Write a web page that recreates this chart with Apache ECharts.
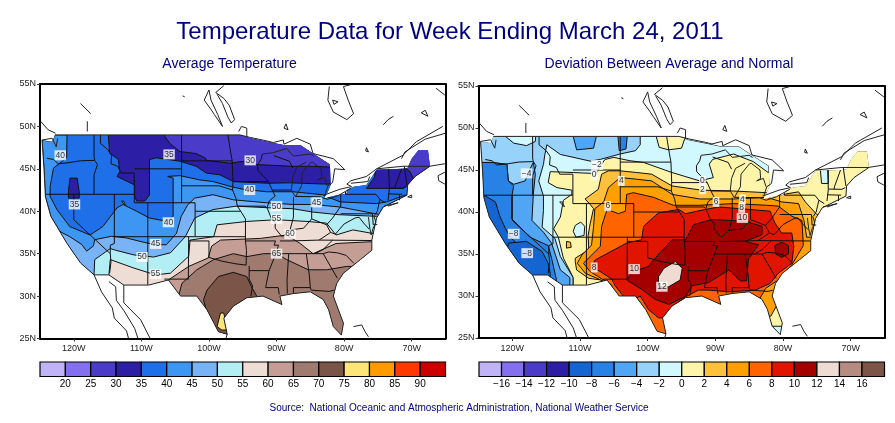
<!DOCTYPE html>
<html><head><meta charset="utf-8">
<style>html,body{margin:0;padding:0;background:#fff}#c{width:895px;height:423px}</style>
<script src="https://cdn.jsdelivr.net/npm/echarts@6/dist/echarts.min.js"></script>
</head><body><div id="c"></div>
<script>
// ---------- data: lon / lat ----------
const lonTicks=[-120,-110,-100,-90,-80,-70];
const latTicks=[25,30,35,40,45,50,55];
const tempLegendTicks=[20,25,30,35,40,45,50,55,60,65,70,75,80,85,90];
const devLegendTicks=[-16,-14,-12,-10,-8,-6,-4,-2,0,2,4,6,8,10,12,14,16];

const usNorthEdge=[[-124.7,48.4],[-123.2,48.2],[-122.8,49],[-95.4,49],[-93.9,48.6],[-91.4,48.2],[-89,47.8],[-86.5,47.8],[-84.6,46.8],[-82.1,45.5],[-82,43.1],[-82.4,42.3],[-83,41.5],[-81.6,41.8],[-79.6,42.1],[-79.6,42.5],[-78.6,42.9],[-76.7,43.1],[-75.2,44.9],[-71.3,45],[-70.6,45.1],[-70,46.2],[-69,47.2],[-67.6,47.2],[-67.3,45.3]];
const usCoast=[[-67.3,45.3],[-69.5,44.1],[-70.6,43.1],[-70.7,41.9],[-74.2,40.5],[-75.2,39.2],[-75.9,36.6],[-75.9,35.4],[-77.6,34.3],[-80.1,32.7],[-81.1,31.5],[-81.6,30],[-80.1,26.8],[-80.4,25.4],[-81.6,26.4],[-82.3,28.4],[-83.1,29.6],[-85,30.5],[-87.5,30.3],[-89.5,30],[-89.2,29],[-92,30],[-94.4,29.8],[-96.4,28.8],[-97.8,27.4],[-97.3,25.5],[-98.6,25.8],[-100.3,28.4],[-101.8,30],[-104.2,30],[-106,31.9],[-108.9,31.3],[-112.6,31.3],[-114.8,32.5],[-117,32.5],[-119,33.9],[-121,36.2],[-123.4,39.4],[-124.2,41.7],[-124.4,44.9],[-124.7,48.4]];

const stateLines=[
[[-124,46.25],[-123,46.1],[-122.3,45.6],[-121,45.7],[-119,45.95],[-116.9,46]],
[[-117,49],[-117,46.4],[-116.9,46],[-116.5,45.5],[-117,44.3],[-117,42]],
[[-124.2,42],[-111.05,42]],
[[-120,42],[-120,39],[-114.6,35],[-114.5,34],[-114.7,32.7]],
[[-114,42],[-114,36.2],[-114.6,36],[-114.6,35]],
[[-114,37],[-94.6,37]],
[[-111.05,42],[-111.05,41],[-102.05,41]],
[[-109.05,41],[-109.05,31.33]],
[[-116.05,49],[-116.05,48],[-115,47.3],[-114.4,46.6],[-114.5,45.6],[-113.5,45.3],[-113,44.5],[-111.05,44.5],[-111.05,42]],
[[-111.05,45],[-104.05,45]],
[[-104.05,49],[-104.05,41]],
[[-102.05,41],[-102.05,37]],
[[-102.05,40],[-95.3,40]],
[[-103,37],[-103.05,32],[-106.6,32]],
[[-103,36.5],[-100,36.5],[-100,34.55],[-98,34.1],[-96,33.8],[-94.5,33.65]],
[[-94.05,33.55],[-94.05,32],[-93.55,31.2],[-93.8,30]],
[[-104.05,45.94],[-96.56,45.94]],
[[-104.05,43],[-98.5,43],[-96.5,42.5]],
[[-97.2,49],[-96.8,47],[-96.56,45.94],[-96.45,43.5],[-96.5,42.5],[-96,41.5],[-95.8,40.6],[-95.3,40],[-94.6,39.1],[-94.6,36.5],[-94.45,35.4],[-94.5,33.65]],
[[-96.45,43.5],[-91.2,43.5]],
[[-92.1,46.75],[-92.3,46.1],[-92.8,45.5],[-92.75,44.8],[-91.2,43.5],[-90.65,42.5],[-90.2,41.8],[-91.1,41.2],[-91.4,40.4],[-90.7,39],[-90.2,38.7],[-90.2,38],[-89.2,37]],
[[-90.65,42.5],[-87.8,42.5]],
[[-95.8,40.6],[-91.7,40.6],[-91.4,40.4]],
[[-94.6,36.5],[-90.15,36.5],[-90.35,36],[-89.7,36],[-90.1,35],[-91.1,33]],
[[-94.05,33],[-91.1,33],[-91.5,31.5],[-91.6,31],[-89.75,31],[-89.6,30.2]],
[[-90.3,35],[-83.1,35],[-82.3,35.2],[-81,35.1],[-79.7,34.8],[-78.55,33.85]],
[[-88.2,35],[-88.45,31.9],[-88.4,30.3]],
[[-85.6,35],[-85.15,32.5],[-85,31],[-84.85,30.7],[-82.2,30.55],[-81.5,30.7]],
[[-87.5,30.3],[-87.5,31],[-85,31]],
[[-83.1,35],[-81,32.1]],
[[-89.5,36.5],[-88,36.5],[-83.7,36.6],[-75.9,36.55]],
[[-81.7,36.6],[-83.1,35.5],[-84.3,35]],
[[-83.7,36.6],[-82,37.5],[-82.6,38.4],[-84.8,39.1],[-86,38],[-88,37.8],[-89.1,37]],
[[-88,37.8],[-87.5,39.3],[-87.5,41.7]],
[[-84.8,39.1],[-84.8,41.7]],
[[-87.2,41.75],[-83.5,41.7]],
[[-80.5,42],[-80.5,40.6],[-81.7,39.2],[-82.6,38.4]],
[[-80.5,39.7],[-75.8,39.7]],
[[-82,37.5],[-81.3,37.3],[-80,38.5],[-78.4,39.2],[-77.8,39.3],[-77,38.5],[-76.3,37.9]],
[[-79.8,42.3],[-79.8,42],[-75.3,42],[-74.7,41.4],[-73.9,41]],
[[-73.4,45],[-73.3,42.7],[-73.5,41.3]],
[[-71.5,45],[-72.4,43],[-72.45,42.7]],
[[-73.3,42.73],[-71.3,42.7],[-70.8,42.9]],
[[-73.5,42.05],[-71.4,42]],
[[-71.8,42],[-71.8,41.3]],
[[-71.1,45.3],[-70.7,43.1]],
[[-90.4,46.55],[-88.1,45.9],[-87.6,45.1]],
[[-74.7,41.4],[-75.1,40],[-75.5,39.5]],
[[-75.8,39.7],[-75.7,38.45],[-75.1,38.45]]
];

const coastLines=[
[[-122.8,49],[-95.4,49]],
[[-117,32.5],[-115.9,30.5],[-114.3,28.6],[-114,27.4],[-112.2,25.9],[-111.9,25]],
[[-114.8,31.7],[-113.8,31.1],[-113.7,29.5],[-112.6,28.3],[-111,26.2],[-110.5,25]],
[[-112.6,31.3],[-112.6,29.2],[-110.1,27.2],[-108.7,25]],
[[-97.3,25.5],[-97.5,25]],
[[-78.6,26.4],[-77.4,26.6],[-76.9,25.8],[-76.4,25.2]],
[[-95.6,49.4],[-95.2,50],[-94.4,49.8],[-94.4,48.7]],
[[-97.8,54.8],[-99,54],[-97.8,53.3],[-97,52.5],[-96.2,50.8],[-96.7,50.4],[-97.2,51.1],[-98,52.7],[-98.8,53.8]],
[[-100,54.3],[-100.7,53.1],[-99.7,52],[-99.2,51.4],[-98,50],[-98.7,51.4],[-99.7,53.1],[-100,54.3]],
[[-88.6,50.3],[-88.3,49.6],[-88.9,49.8],[-88.6,50.3]],
[[-82.2,54.7],[-82.4,53.1],[-81.6,51.7],[-79.6,50.8],[-78.6,51.5],[-79.4,53.1],[-80.1,54.7],[-79.1,54.9]],
[[-81.7,53.1],[-80.9,52.9],[-81.5,52.6],[-81.7,53.1]],
[[-95.4,49],[-93.9,48.7],[-91.5,48.3],[-90.5,48.1],[-89,48.4],[-88.9,47.9],[-87,48.6],[-85,47.9],[-84.6,46.8],[-81.6,46.2],[-79.9,44.9],[-81.4,45],[-81.7,43.4],[-82.4,43],[-82.8,42],[-83,41.9],[-80.6,42.6],[-78.9,42.9],[-79.6,43.2],[-79,43.6],[-76.7,44.1],[-75.2,45],[-71.3,46.6],[-69.3,48.2],[-65.4,50]],
[[-75.2,45],[-71.3,45.3],[-67.4,45.3],[-65.1,45.6]],
[[-71.5,46.2],[-71,47],[-68,48.5],[-65,49.2]],
[[-74.2,50.2],[-73.5,50.8],[-72.7,51.2]],
[[-68.6,51.6],[-68,51.9],[-67.6,51.2],[-68.6,51.6]],
[[-76.7,47.5],[-76.4,47],[-76.8,47.1],[-76.7,47.5]],
[[-66.4,54.5],[-65.1,53.7]],
[[-65.1,44.6],[-66.1,44.2],[-66,43.6],[-65.1,43.2]],
[[-119,52.7],[-117.5,51.5]],[[-118,50.6],[-118,49.4]],[[-103.9,53.6],[-103.6,53.5]],
[[-124.9,50.6],[-123.8,49.6],[-122.7,49.2]],[[-124.7,48.4],[-123.2,48.6],[-122.6,47.6],[-122.4,48.6]],
[[-92.1,46.75],[-90.5,46.9],[-88.5,47.4],[-87.5,46.5],[-85,46.75],[-84.5,46.5]],
[[-87.2,41.7],[-87.8,42.5],[-87.6,44],[-87,45.2],[-85.6,45.8]],
[[-87.2,41.7],[-86.3,43],[-86.2,44.5],[-85,45.7],[-84.7,45.8]],
[[-84.7,45.8],[-83.4,45],[-83.3,44],[-83.9,43.7],[-82.9,44],[-82.5,43]],
[[-83.5,41.7],[-82.5,41.4],[-81,41.8],[-79,42.7]],
[[-79,43.3],[-76.5,43.5],[-76.2,44.1]],
[[-113,41.2],[-112.3,40.6],[-112.6,41.2],[-113,41.2]],
[[-74.1,40.6],[-72,41],[-73.5,40.6]],[[-70.6,41.7],[-70,41.9],[-70,41.6],[-70.6,41.7]],
[[-76.4,39.3],[-76.2,38],[-76,37.2],[-75.7,38],[-75.3,38.7],[-75.6,39.5]]
];

// region = [legend band index, ring of lon/lat]
const tempRegions=[
[5,usNorthEdge.concat(usCoast)],
[4,[[-121.1,50],[-121,49],[-121.06,46.3],[-123,45.1],[-123.5,42.9],[-123.5,41.75],[-122.5,40.2],[-120.6,38.2],[-117.6,37.2],[-115.7,38.2],[-113.6,40.4],[-112.7,40.8],[-110.7,40],[-108.8,39.2],[-106.1,38.8],[-105.3,39.4],[-105.3,40.8],[-105.3,43.9],[-106.1,44.1],[-104.3,44.2],[-101.4,43.7],[-99.4,43.5],[-96.7,42.9],[-95,42.6],[-91.5,42.3],[-87.6,42.3],[-83.2,41.95],[-80.6,41.1],[-75.2,40.9],[-73.7,41.1],[-71,41.9],[-65,41.9],[-65,50]]],
[3,[[-114.9,50],[-114.9,49],[-114.7,46.85],[-113.4,46.1],[-113.2,44.7],[-113.6,44.1],[-111,43.1],[-111,41.75],[-110.7,41.2],[-109.5,41.2],[-108.8,41.9],[-108.8,44.9],[-108.8,46.1],[-107.8,46.3],[-104.3,45.9],[-101.9,45.3],[-100.4,44.5],[-98.4,44.3],[-96.4,43.5],[-91.5,43.3],[-88.1,43.35],[-82.7,43.2],[-80,43.2],[-80,50]]],
[2,[[-106.6,50],[-106.5,48.8],[-105.8,48],[-104.3,47.04],[-101.9,46.8],[-100.5,46.26],[-100.4,46],[-97,45.67],[-94.7,45.9],[-93,45.5],[-87.6,45.3],[-84.6,45.3],[-82,45.2],[-80,45.2],[-80,50]]],
[3,[[-120.57,43.9],[-119.5,43.9],[-119.2,42.3],[-119.2,41.55],[-120.8,41.55],[-120.8,42.3]]],
[3,[[-76.7,42.7],[-71.3,42.7],[-70.6,43.1],[-68,43],[-68,46],[-75.2,46],[-75.5,44]]],
[2,[[-71.2,48],[-71,45.2],[-70.2,44.6],[-69.8,43.9],[-66,43.9],[-66,48]]],
[6,[[-126,39.6],[-124,39.6],[-122.5,37.8],[-120.6,37],[-118.85,36.1],[-118.1,35.3],[-117.1,35.9],[-116.9,36.65],[-114.4,37.05],[-112.2,36.85],[-110.2,36.45],[-108,36.05],[-106.3,36.05],[-104.8,37.4],[-104.1,39.4],[-103.1,40.8],[-102.1,41.55],[-99.4,41.95],[-96.4,41.35],[-91.5,41],[-87.6,40.8],[-84.6,40.8],[-80.6,40.5],[-74.7,39.6],[-65,39.6],[-65,24],[-126,24]]],
[7,[[-117,30],[-117,32.6],[-116.9,34.3],[-114.6,35.6],[-113.8,35.4],[-111.1,34.85],[-108.2,34.6],[-105.7,35.1],[-103.5,37],[-102.1,39.2],[-99.4,40.2],[-96,40.6],[-91,40.4],[-87.6,40.3],[-84.6,39.9],[-80.9,39.6],[-75.2,39.4],[-65,39.4],[-65,24],[-117,24]]],
[8,[[-114.8,30],[-114.8,32.5],[-114.6,34.3],[-111.1,33.3],[-107.9,32.5],[-105.7,32.7],[-103,34.7],[-102.8,36.6],[-99.3,37],[-98.8,38.4],[-94.4,38.8],[-90,39],[-85.5,38.8],[-82.6,38.6],[-81.2,37.2],[-78.7,37.8],[-75.9,37.4],[-65,37.4],[-65,24],[-114.8,24]]],
[9,[[-106,30],[-106,31.9],[-103,33.5],[-100.1,34.5],[-99.6,35.9],[-98.3,36.6],[-92.4,36.8],[-88.5,37.2],[-86.5,36.2],[-84.6,35],[-81.2,36.2],[-76.2,36.4],[-65,36.4],[-65,24],[-106,24]]],
[10,[[-104.5,30],[-104,31.5],[-101.8,33.1],[-99.3,34.3],[-96.4,35],[-94.4,34.65],[-91.9,35],[-90,35],[-88.5,34.3],[-85.3,33.1],[-82.6,33.1],[-79.6,33.5],[-78,33.5],[-70,30],[-70,24],[-104.5,24]]],
[11,[[-100.8,29.55],[-100.3,30.7],[-98.6,32.3],[-96.4,32.8],[-94.4,32.3],[-93.7,31.1],[-92.9,29.95],[-92.9,29],[-95.4,28.8],[-97.3,27.8],[-97.3,25],[-99.3,25]]],
[12,[[-98.3,28],[-97.8,28],[-97.3,26],[-98.1,26],[-98.8,26.4]]]
];
const devRegions=[
[8,usNorthEdge.concat(usCoast)],
[7,[[-126,50],[-101.1,50],[-101.1,48],[-101.8,47.3],[-104.1,46.9],[-107,46.26],[-108.5,46.06],[-112.9,46.85],[-114.9,48],[-115.2,46.8],[-115.4,45.67],[-116.1,43.7],[-115.4,41.9],[-115.4,40.2],[-115.6,38.2],[-113.7,36.85],[-112.9,34.7],[-111,32.2],[-111,30],[-126,30]]],
[8,[[-121,49.5],[-121,49],[-119.8,48.2],[-117.9,47.9],[-116.6,48.4],[-116.5,49.5]]],
[6,[[-126,45.9],[-123,45.9],[-120.8,45.67],[-120.6,43.7],[-119.8,43.3],[-118.1,43.7],[-117.4,45.1],[-116.9,45.9],[-116.6,44.5],[-116.9,42.1],[-117.1,39],[-115.4,37.6],[-114.2,36.3],[-112.9,33.1],[-111.5,32.2],[-111.5,30],[-126,30]]],
[5,[[-126,45.9],[-123,45.9],[-120.8,45.67],[-120.6,43.7],[-119.8,43.1],[-120.1,41.75],[-120.1,39.2],[-117.4,37],[-114.7,36],[-114.2,34.5],[-113.5,32],[-113.5,30],[-126,30]]],
[4,[[-126,41.9],[-124,41.9],[-122.5,41.2],[-121.8,39.4],[-121,38],[-120.3,37],[-119,36],[-120,30],[-126,30]]],
[4,[[-120.6,36.3],[-117.9,36.5],[-115.6,35.3],[-114.7,33.9],[-114.4,32.7],[-114.4,32],[-118,32],[-121,34]]],
[6,[[-111,50],[-107.3,50],[-108,47.6],[-110.5,47.4],[-111,49]]],
[5,[[-104.5,50],[-102.9,50],[-103.2,47.5],[-104.2,47.3]]],
[9,[[-111,30],[-111,32.2],[-112.45,34.5],[-113.2,37],[-113.9,38],[-112.9,39.4],[-112.45,41.4],[-111.2,42.1],[-111.2,42.6],[-113.4,42.9],[-114.7,43.5],[-114.4,44.8],[-111,44.7],[-108.3,44.6],[-107.8,44.3],[-107,45.5],[-106.3,46.26],[-105,46.5],[-102.6,46.1],[-100.6,45.9],[-96.4,44.7],[-92.3,43.7],[-90.3,44.1],[-90.9,45.7],[-90.4,46.26],[-87.3,46.9],[-84.4,46],[-82.2,44.7],[-80,46],[-65,49],[-65,24],[-111,24]]],
[9,[[-98.9,49.5],[-94.2,49.5],[-95,47.6],[-96.9,47.4],[-98.3,47.7]]],
[8,[[-110.7,38.4],[-109.9,38.8],[-109.3,38.3],[-109.4,37.2],[-110.6,37],[-111,37.7]]],
[8,[[-74.5,45.2],[-73.3,45.2],[-73.3,43.4],[-74.3,43.4]]],
[10,[[-112,36.5],[-111.4,36.4],[-111.3,35.8],[-112,35.7]]],
[10,[[-109.25,41.55],[-107.3,42.7],[-106.8,44.5],[-105.8,44.9],[-104.07,44.9],[-101.6,44.7],[-99.4,44.5],[-96.4,43.1],[-92,42.6],[-87.3,42.5],[-82.4,42.3],[-80.7,42],[-77.7,42.4],[-76.7,41.2],[-75,39.7],[-73,39.7],[-73,34],[-80,30.6],[-81,29.5],[-81.5,28.3],[-83.5,28],[-90,24],[-106.8,24],[-106.8,31.9],[-108.7,32.1],[-110.5,33.1],[-110.7,34.1],[-110.7,34.5],[-108.7,35.5],[-108.8,37.2],[-108.5,38.6],[-108,40.4],[-108.5,40.9]]],
[11,[[-105.8,42.9],[-104.07,44.1],[-101.6,43.9],[-99.4,43.7],[-96.4,42.1],[-92.3,41.55],[-87.3,41.55],[-82.4,41.75],[-80.2,41.2],[-77.7,41],[-76.9,39],[-76.5,37],[-73,37],[-73,33],[-79,30],[-80.5,29.5],[-81.8,27.6],[-83.5,27.6],[-90,24],[-105.8,24],[-105.8,31.5],[-109.2,32.7],[-110.4,33.9],[-109.7,34.9],[-108.3,36.05],[-108,38.2],[-107.8,40.4],[-106.5,41.2]]],
[12,[[-105.3,31.3],[-108.5,32.9],[-109.5,33.9],[-108.25,34.9],[-107,35.9],[-106.8,38.3],[-106,40.3],[-104.3,39.8],[-103.3,40.1],[-103.1,42.1],[-102.1,42.3],[-99.15,41.75],[-96.2,40.8],[-92.3,40.8],[-87.3,41],[-82.4,40.8],[-80.7,40.7],[-78.7,39.5],[-77.2,39],[-77,36],[-78.7,33.7],[-80.7,31.9],[-82.6,30.9],[-82.9,30.4],[-84,29],[-90,24],[-100,24],[-105.3,30]]],
[13,[[-107.75,34.3],[-103.1,36.3],[-100.9,36.7],[-100.6,38.3],[-98.4,39.9],[-95.4,40.3],[-94.4,39.8],[-91.5,40.3],[-89.5,40.6],[-81.9,40.1],[-81.2,38.7],[-80.2,37.5],[-78.7,37.5],[-78.4,35.9],[-78.7,33.9],[-80.7,32.7],[-81.9,31.5],[-84.1,30.7],[-88,30.5],[-91,30.7],[-92.5,30.7],[-94.4,29.9],[-95.9,29],[-97.4,27.4],[-98.4,27.4],[-99.9,28.4],[-101.1,30],[-102.8,29.2],[-104.8,31.2],[-105.3,32],[-106.8,32.8],[-108.25,33.5]]],
[14,[[-103.1,31.9],[-102.3,32.9],[-99.9,33.5],[-99.15,34.3],[-96.4,36.7],[-94.4,36.7],[-93.2,38.5],[-90.5,39.1],[-85.6,38.9],[-83.1,38.3],[-83.1,37.3],[-85.6,36.5],[-83.6,36.1],[-85.1,34.4],[-85.4,31.8],[-86.3,31.8],[-88,33.1],[-91,31.6],[-93.5,31.2],[-94.4,29.95],[-96.9,29],[-98.9,29.6],[-100.9,30.8]]],
[14,[[-80.2,36.4],[-79.2,36],[-79.2,35],[-80.2,34.6],[-81.1,35],[-81.2,36]]],
[15,[[-98.4,32.3],[-97.6,33.3],[-95.9,34.1],[-94.9,33.3],[-95.2,31.9],[-96.9,31.1],[-98.4,31.1]]],
[8,[[-82,26.4],[-80,26.4],[-80,25],[-82,25]]]
];
const tempLabels=[[-122,46.6,'40'],[-105.9,46.7,'35'],[-93.9,46,'30'],[-119.9,40.8,'35'],[-94,42.5,'40'],[-84.1,41.05,'45'],[-90,40.6,'50'],[-90,39.1,'55'],[-88,37.3,'60'],[-90,35,'65'],[-106,38.7,'40'],[-107.9,36.15,'45'],[-109.9,34.6,'50'],[-107.9,32.6,'55']];
const devLabels=[[-107.5,45.6,'-2'],[-107.9,44.4,'0'],[-117.9,44.6,'-4'],[-119.8,37.4,'-8'],[-117.8,35.1,'-8'],[-103.9,43.7,'4'],[-105.9,40.7,'6'],[-107.9,33.4,'8'],[-102,33.2,'10'],[-97.9,31.1,'12'],[-86,39.3,'10'],[-86.1,40.5,'8'],[-89.9,41.2,'6'],[-86,41.5,'4'],[-91.9,42.7,'2'],[-91.9,43.7,'0']];

// ---------- styles ----------
const tempColors=['#c0b3f8','#8470ee','#4a3cc8','#2c1ea5','#1f6fe8','#3c96f2','#78b4f5','#b4eef5','#eeddd5','#c49e94','#9f7a6e','#7b5548','#fde678','#ff9b00','#ff3800','#cc0000'];
const devColors=['#c0b3f8','#8470ee','#4a3cc8','#2c1ea5','#1464d2','#2882e6','#50a5f5','#96d2fa','#d2f8ff','#fff5aa','#ffc03c','#ffa000','#ff6400','#e11400','#a50000','#eedcd2','#b48c82','#7d5546'];
const navy='#000080', ink='#111', font='"Liberation Sans",Arial,sans-serif';

const usRing=usNorthEdge.concat(usCoast);
function fillSeries(regions,colors,g){
  return {type:'custom',xAxisIndex:g,yAxisIndex:g,clip:true,silent:true,z:2,
    data:regions.map(r=>r[1][0]),
    renderItem(params,api){
      const r=regions[params.dataIndex];
      return {type:'polygon',shape:{points:r[1].map(p=>api.coord(p))},
        clipPath:{type:'polygon',shape:{points:usRing.map(p=>api.coord(p))}},
        style:{fill:colors[r[0]],stroke:ink,lineWidth:1}};
    }};
}
function lineSeries(lines,g,color,w,z){
  return {type:'custom',xAxisIndex:g,yAxisIndex:g,clip:true,silent:true,z:z,
    data:lines.map(l=>l[0]),
    renderItem(params,api){
      return {type:'polyline',shape:{points:lines[params.dataIndex].map(p=>api.coord(p))},
        style:{fill:null,stroke:color,lineWidth:w}};
    }};
}
function labelSeries(labels,g){
  return {type:'scatter',xAxisIndex:g,yAxisIndex:g,symbolSize:0,silent:true,z:6,
    data:labels.map(l=>({value:[l[0],l[1]],name:l[2]})),
    label:{show:true,position:'inside',formatter:p=>p.name.replace('-','\u2212'),fontFamily:font,fontSize:8.5,color:'#000',
      backgroundColor:'#fff',padding:[1,1,0,1]}};
}
function legendSeries(colors,g){
  return {type:'custom',xAxisIndex:g,yAxisIndex:g,silent:true,z:3,
    data:colors.map((c,i)=>[i,0]),
    renderItem(params,api){
      const a=api.coord([params.dataIndex,1]),b=api.coord([params.dataIndex+1,0]);
      return {type:'rect',shape:{x:a[0],y:a[1],width:b[0]-a[0],height:b[1]-a[1]},
        style:{fill:colors[params.dataIndex],stroke:'#000',lineWidth:1.2}};
    }};
}
function mapAxes(g){
  return [{gridIndex:g,type:'value',min:-125,max:-65,interval:5,splitLine:{show:false},
      axisLine:{show:true,onZero:false,lineStyle:{color:'#000',width:2}},
      axisTick:{show:true,length:3,customValues:lonTicks,lineStyle:{color:'#333'}},
      axisLabel:{customValues:lonTicks,formatter:v=>Math.abs(v)+'W',fontFamily:font,fontSize:9,color:'#222',margin:6}},
    {gridIndex:g,type:'value',min:25,max:55,interval:5,splitLine:{show:false},
      axisLine:{show:true,onZero:false,lineStyle:{color:'#000',width:2}},
      axisTick:{show:true,length:3,customValues:latTicks,lineStyle:{color:'#333'}},
      axisLabel:{customValues:latTicks,formatter:v=>v+'N',fontFamily:font,fontSize:9,color:'#222',margin:4}}];
}
function frameAxes(g){
  return [{gridIndex:g,type:'value',position:'top',min:-125,max:-65,axisLine:{show:true,onZero:false,lineStyle:{color:'#000',width:2}},axisTick:{show:false},axisLabel:{show:false},splitLine:{show:false}},
          {gridIndex:g,type:'value',position:'right',min:25,max:55,axisLine:{show:true,onZero:false,lineStyle:{color:'#000',width:2}},axisTick:{show:false},axisLabel:{show:false},splitLine:{show:false}}];
}
function legendAxes(g,n,ticks){
  const offset=1;
  return [{gridIndex:g,type:'value',min:0,max:n,interval:1,splitLine:{show:false},axisLine:{show:false},axisTick:{show:false},
      axisLabel:{showMinLabel:false,showMaxLabel:false,formatter:v=>{const t=ticks[v-offset];return t===undefined?'':String(t).replace('-','\u2212');},fontFamily:font,fontSize:10,color:'#000',margin:3}},
    {gridIndex:g,type:'value',min:0,max:1,show:false}];
}
const mapL=mapAxes(0),mapR=mapAxes(1),legL=legendAxes(2,16,tempLegendTicks),legR=legendAxes(3,18,devLegendTicks);
const frL=frameAxes(4),frR=frameAxes(5);

const chart=echarts.init(document.getElementById('c'),null,{renderer:'canvas'});
chart.setOption({
  animation:false,backgroundColor:'#fff',
  title:[
    {text:'Temperature Data for Week Ending March 24, 2011',left:450,top:20,padding:0,textAlign:'center',textStyle:{fontFamily:font,fontWeight:'normal',fontSize:24,color:navy}},
    {text:'Average Temperature',left:229.5,top:57,padding:0,textAlign:'center',textStyle:{fontFamily:font,fontWeight:'normal',fontSize:14,color:navy}},
    {text:'Deviation Between Average and Normal',left:669,top:57,padding:0,textAlign:'center',textStyle:{fontFamily:font,fontWeight:'normal',fontSize:14,color:navy}},
    {text:'Source:  National Oceanic and Atmospheric Administration, National Weather Service',left:459,top:403,padding:0,textAlign:'center',textStyle:{fontFamily:font,fontWeight:'normal',fontSize:10,color:navy}}
  ],
  grid:[
    {left:40,top:84,width:405.5,height:254.5},
    {left:478.5,top:86,width:406,height:252},
    {left:40,top:362,width:405.5,height:14.5},
    {left:479,top:362,width:405.5,height:14.5},
    {left:40,top:84,width:405.5,height:254.5},
    {left:478.5,top:86,width:406,height:252}
  ],
  xAxis:[mapL[0],mapR[0],legL[0],legR[0],frL[0],frR[0]],
  yAxis:[mapL[1],mapR[1],legL[1],legR[1],frL[1],frR[1]],
  series:[
    fillSeries(tempRegions,tempColors,0),
    lineSeries(stateLines,0,ink,1,3),
    lineSeries(coastLines.concat([usCoast]),0,'#222',1,4),
    labelSeries(tempLabels,0),
    fillSeries(devRegions,devColors,1),
    lineSeries(stateLines,1,ink,1,3),
    lineSeries(coastLines.concat([usCoast]),1,'#222',1,4),
    labelSeries(devLabels,1),
    legendSeries(tempColors,2),
    legendSeries(devColors,3)
  ]
});
</script></body></html>
